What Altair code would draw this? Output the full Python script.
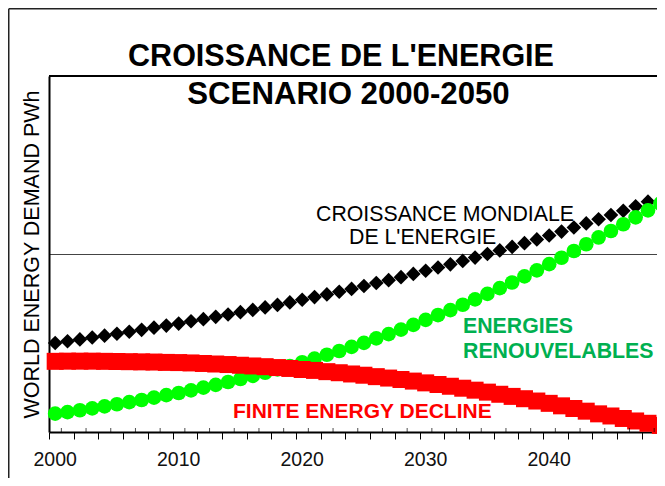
import altair as alt
import pandas as pd

# ---------------- data ----------------
years = list(range(2000, 2050))

# CROISSANCE MONDIALE DE L'ENERGIE (black diamonds, 2000-2048)
croissance_mondiale = [50.0, 51.0, 52.0, 53.1, 54.1, 55.2, 56.3, 57.4, 58.6, 59.8,
                       60.9, 62.2, 63.4, 64.7, 66.0, 67.3, 68.6, 70.0, 71.4, 72.8,
                       74.3, 75.8, 77.3, 78.8, 80.4, 82.0, 83.7, 85.3, 87.0, 88.8,
                       90.6, 92.4, 94.2, 96.1, 98.0, 100.0, 102.0, 104.0, 106.1, 108.2,
                       110.4, 112.6, 114.9, 117.2, 119.5, 121.9, 124.3, 126.8, 129.4]

# ENERGIES RENOUVELABLES (green circles)
energies_renouvelables = [10.3, 11.2, 12.2, 13.3, 14.4, 15.6, 16.8, 18.0, 19.3, 20.7,
                          21.9, 23.4, 24.9, 26.5, 28.1, 29.8, 31.5, 33.3, 35.2, 37.1,
                          39.2, 41.2, 43.4, 45.5, 47.8, 50.1, 52.6, 55.0, 57.5, 60.2,
                          63.0, 65.7, 68.5, 71.5, 74.5, 77.6, 80.8, 84.0, 87.4, 90.8,
                          94.3, 97.9, 101.7, 105.5, 109.3, 112.9, 116.7, 120.6, 124.5, 128.3]

# FINITE ENERGY DECLINE (red squares)
finite_energy = [39.7, 39.8, 39.8, 39.8, 39.7, 39.6, 39.5, 39.4, 39.3, 39.1,
                 39.0, 38.8, 38.5, 38.2, 37.9, 37.5, 37.1, 36.7, 36.2, 35.7,
                 35.1, 34.6, 33.9, 33.3, 32.6, 31.9, 31.1, 30.3, 29.5, 28.6,
                 27.6, 26.7, 25.7, 24.6, 23.5, 22.4, 21.2, 20.0, 18.7, 17.4,
                 16.1, 14.7, 13.2, 11.7, 10.2, 9.0, 7.6, 6.2, 4.9, 3.7]

tick_labels = [2000, 2010, 2020, 2030, 2040]
major_ticks = list(range(2000, 2050, 2))
minor_ticks = list(range(2001, 2050, 2))
y_grid = [100]
y_domain = [0, 200]
x_domain = [2000, 2049.23]

title_lines = ["CROISSANCE DE L'ENERGIE", "SCENARIO 2000-2050"]
y_title = "WORLD ENERGY DEMAND PWh"

FONT = "Liberation Sans"
W, H = 608, 356

df_black = pd.DataFrame({"year": years[:len(croissance_mondiale)], "v": croissance_mondiale})
df_green = pd.DataFrame({"year": years, "v": energies_renouvelables})
df_red = pd.DataFrame({"year": years, "v": finite_energy})
df_minor = pd.DataFrame({"x": minor_ticks})
df_labels = pd.DataFrame({"year": tick_labels})
one = pd.DataFrame({"a": [0]})

x_enc = alt.X(
    "x:Q",
    scale=alt.Scale(domain=x_domain, nice=False, zero=False),
    axis=alt.Axis(
        values=major_ticks, labels=False,
        title=None, grid=False,
        tickSize=7, tickColor="black", tickWidth=1,
        domainColor="black", domainWidth=2,
    ),
)

y_enc = alt.Y(
    "v:Q",
    scale=alt.Scale(domain=y_domain, nice=False, zero=True),
    axis=alt.Axis(
        values=y_grid, labels=False, ticks=False,
        domain=True, domainColor="black", domainWidth=2,
        grid=True, gridColor="#444", gridWidth=1,
        title=y_title, titleFont=FONT, titleFontSize=21.5,
        titleFontWeight="normal", titleColor="black",
        titleX=-11, titleY=H / 2, titleAngle=270,
        titleAlign="center", titleBaseline="alphabetic",
    ),
)

black = alt.Chart(df_black).transform_calculate(x="datum.year + 0.5").mark_point(
    shape="diamond", filled=True, size=215, color="black", opacity=1, strokeWidth=0
).encode(x=x_enc, y=y_enc)

green = alt.Chart(df_green).transform_calculate(x="datum.year + 0.5").mark_circle(
    size=215, color="#00FF00", opacity=1
).encode(x=x_enc, y=y_enc)

red = alt.Chart(df_red).transform_calculate(x="datum.year + 0.5").mark_square(
    size=289, color="#FF0000", opacity=1
).encode(x=x_enc, y=y_enc)

minor = alt.Chart(df_minor).mark_tick(
    orient="vertical", size=4, thickness=1, color="black"
).encode(x=x_enc, y=alt.value(H - 2))

# category labels centred on each year's slot
labels = alt.Chart(df_labels).transform_calculate(
    x="datum.year + 0.5", t="'' + datum.year"
).mark_text(
    align="center", baseline="alphabetic", font=FONT, fontSize=19.5, color="#111"
).encode(x=x_enc, y=alt.value(H + 34), text="t:N")

# frame lines
top_line = alt.Chart(one).mark_rule(color="black", strokeWidth=2).encode(
    x=alt.value(0), x2=alt.value(W + 10), y=alt.value(0))
frame_top = alt.Chart(one).mark_rule(color="#222", strokeWidth=1.5).encode(
    x=alt.value(-40.25), x2=alt.value(W + 10), y=alt.value(-67.25))
frame_left = alt.Chart(one).mark_rule(color="#222", strokeWidth=1.5).encode(
    x=alt.value(-40.25), y=alt.value(-67.25), y2=alt.value(H + 60))


def txt(s, x, y, size, color="black", weight="normal", align="left"):
    return alt.Chart(one).mark_text(
        align=align, baseline="alphabetic", font=FONT, fontSize=size,
        fontWeight=weight, color=color
    ).encode(x=alt.value(x), y=alt.value(y), text=alt.value(s))


texts = [
    txt(title_lines[0], 292, -10, 30.5, weight="bold", align="center"),
    txt(title_lines[1], 299.5, 28, 31.2, weight="bold", align="center"),
    txt("CROISSANCE MONDIALE", 267, 145, 21.3),
    txt("DE L'ENERGIE", 300, 168, 21.3),
    txt("ENERGIES", 414, 257, 21.3, color="#00B050", weight="bold"),
    txt("RENOUVELABLES", 414, 282, 21.3, color="#00B050", weight="bold"),
    txt("FINITE ENERGY DECLINE", 184, 342, 21, color="#FF0000", weight="bold"),
]

chart = alt.layer(
    frame_top, frame_left, black, green, red, minor, labels, top_line, *texts
).properties(
    width=W, height=H,
    autosize=alt.AutoSizeParams(type="none"),
    padding={"left": 41, "top": 68, "right": 0, "bottom": 46},
    background="white",
).configure_view(stroke=None)

chart.save("out.html", embed_options={"renderer": "svg", "actions": False})
